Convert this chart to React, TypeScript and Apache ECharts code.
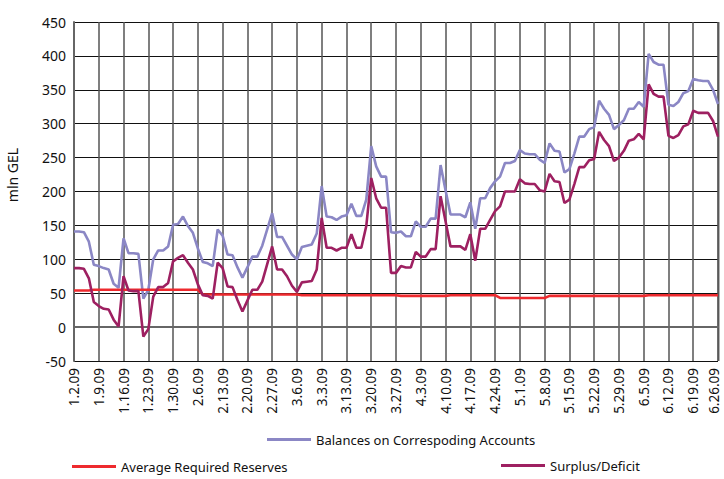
import React, { useEffect, useRef } from "react";
import * as echarts from "echarts";

const tickLabels = [
  "1.2.09", "1.9.09", "1.16.09", "1.23.09", "1.30.09", "2.6.09", "2.13.09", "2.20.09", "2.27.09",
  "3.6.09", "3.3.09", "3.13.09", "3.20.09", "3.27.09", "4.3.09", "4.10.09", "4.17.09", "4.24.09",
  "5.1.09", "5.8.09", "5.15.09", "5.22.09", "5.29.09", "6.5.09", "6.12.09", "6.19.09", "6.26.09",
];

const balances = [
  141, 141, 140, 126, 92, 90, 87, 85, 64, 58,
  131, 109, 109, 108, 42, 55, 100, 113, 113, 119,
  151, 152, 163, 149, 139, 116, 96, 94, 90, 144,
  135, 107, 106, 88, 73, 88, 104, 104, 120, 144,
  168, 133, 133, 120, 107, 100, 118, 120, 122, 138,
  208, 163, 162, 158, 163, 165, 182, 164, 164, 188,
  267, 237, 222, 222, 140, 139, 141, 134, 134, 156,
  148, 148, 160, 160, 239, 202, 166, 166, 166, 162,
  184, 145, 190, 190, 205, 215, 222, 242, 242, 245,
  261, 256, 255, 255, 247, 242, 271, 260, 259, 228,
  233, 256, 281, 281, 292, 295, 334, 322, 313, 292,
  298, 305, 322, 322, 332, 325, 403, 391, 387, 387,
  328, 326, 332, 345, 348, 366, 364, 363, 363, 350,
  329,
];

const surplus = [
  87, 87, 86, 72, 37, 31, 27, 26, 11, 1,
  75, 54, 53, 53, -14, -3, 45, 59, 59, 65,
  97, 102, 106, 95, 85, 63, 47, 46, 42, 95,
  87, 60, 59, 40, 23, 39, 55, 55, 67, 93,
  119, 85, 85, 75, 61, 52, 66, 67, 68, 85,
  161, 117, 117, 113, 117, 117, 137, 117, 117, 149,
  220, 190, 176, 176, 80, 80, 90, 88, 88, 111,
  104, 104, 115, 115, 193, 156, 119, 119, 119, 114,
  137, 98, 145, 145, 158, 171, 178, 200, 200, 200,
  218, 212, 211, 211, 202, 200, 226, 215, 214, 183,
  188, 211, 236, 236, 246, 248, 288, 276, 267, 245,
  250, 260, 275, 277, 285, 277, 358, 344, 340, 340,
  282, 279, 283, 296, 299, 319, 316, 316, 316, 304,
  281,
];

const reserves = [
  54, 54, 54, 54, 55, 55, 55, 55, 55, 55,
  55, 55, 55, 55, 55, 55, 55, 55, 55, 55,
  55, 55, 55, 55, 55, 55, 48, 48, 48, 48,
  48, 48, 48, 48, 48, 48, 48, 48, 48, 48,
  48, 48, 48, 48, 48, 48, 47, 47, 47, 47,
  47, 47, 47, 47, 47, 47, 47, 47, 47, 47,
  47, 47, 47, 47, 47, 47, 46, 46, 46, 46,
  46, 46, 46, 46, 46, 46, 47, 47, 47, 47,
  47, 47, 47, 47, 47, 47, 43, 43, 43, 43,
  43, 43, 43, 43, 43, 43, 46, 46, 46, 46,
  46, 46, 46, 46, 46, 46, 46, 46, 46, 46,
  46, 46, 46, 46, 46, 46, 47, 47, 47, 47,
  47, 47, 47, 47, 47, 47, 47, 47, 47, 47,
  47,
];

const categories = balances.map((_, i) => (i % 5 === 0 ? tickLabels[i / 5] : "d" + i));
const lastLabel = tickLabels[tickLabels.length - 1];

const FONT = "'Noto Sans', 'Open Sans', sans-serif";

export default function App() {
  const ref = useRef<HTMLDivElement>(null);
  useEffect(() => {
    if (!ref.current) return;
    const chart = echarts.init(ref.current, undefined, { renderer: "svg" });
    chart.setOption({
      animation: false,
      backgroundColor: "#ffffff",
      textStyle: { fontFamily: FONT },
      grid: { left: 74, right: 6, top: 22, bottom: 118, containLabel: false },
      legend: [
        {
          data: ["Balances on Correspoding Accounts"],
          left: 262, top: 428,
          icon: "rect", itemWidth: 44, itemHeight: 3, itemGap: 10,
          textStyle: { fontSize: 13, color: "#111", fontFamily: FONT },
        },
        {
          data: ["Average Required Reserves"],
          left: 67, top: 455,
          icon: "rect", itemWidth: 44, itemHeight: 3,
          textStyle: { fontSize: 13, color: "#111", fontFamily: FONT },
        },
        {
          data: ["Surplus/Deficit"],
          left: 499, top: 457,
          padding: 2,
          icon: "rect", itemWidth: 44, itemHeight: 3,
          textStyle: { fontSize: 13, color: "#111", fontFamily: FONT },
        },
      ],
      xAxis: {
        type: "category",
        data: categories,
        boundaryGap: false,
        axisLine: { show: true, lineStyle: { color: "#666", width: 2 } },
        axisTick: { show: false },
        axisLabel: {
          interval: 4,
          rotate: 90,
          margin: 7,
          fontSize: 13.5,
          color: "#111",
          fontFamily: FONT,
          formatter: (v: string) =>
            v.startsWith("d") ? "" : v === lastLabel ? "{last|" + v + "}" : v,
          rich: {
            last: {
              fontSize: 13.5,
              color: "#111",
              fontFamily: FONT,
              padding: [0, 0, 8, 0],
            },
          },
        },
        splitLine: { show: true, interval: 4, lineStyle: { color: "#555", width: 1.5 } },
      },
      yAxis: {
        type: "value",
        min: -50,
        max: 450,
        interval: 50,
        axisLine: { show: true, lineStyle: { color: "#666", width: 2 } },
        axisTick: { show: false },
        axisLabel: { fontSize: 14, color: "#111", margin: 8, fontFamily: FONT },
        splitLine: { show: true, lineStyle: { color: "#111", width: 1 } },
      },
      graphic: [
        {
          type: "text",
          x: 12,
          y: 175,
          rotation: Math.PI / 2,
          style: {
            text: "mln GEL",
            fontSize: 14,
            fill: "#111",
            fontFamily: FONT,
            textAlign: "center",
            textVerticalAlign: "middle",
          },
        },
        {
          type: "line",
          shape: { x1: 718.5, y1: 22, x2: 718.5, y2: 361 },
          style: { stroke: "#666", lineWidth: 2 },
        },
      ],
      series: [
        {
          name: "Balances on Correspoding Accounts",
          type: "line",
          data: balances,
          symbol: "none",
          lineStyle: { color: "#8B87C5", width: 2.6 },
          itemStyle: { color: "#8B87C5" },
        },
        {
          name: "Average Required Reserves",
          type: "line",
          data: reserves,
          symbol: "none",
          lineStyle: { color: "#EE2A2E", width: 2.6 },
          itemStyle: { color: "#EE2A2E" },
        },
        {
          name: "Surplus/Deficit",
          type: "line",
          data: surplus,
          symbol: "none",
          lineStyle: { color: "#9E2061", width: 2.6 },
          itemStyle: { color: "#9E2061" },
        },
      ],
    });
    return () => chart.dispose();
  }, []);
  return (
    <div
      ref={ref}
      style={{ position: "fixed", left: 0, top: 0, width: 724, height: 479 }}
    />
  );
}
